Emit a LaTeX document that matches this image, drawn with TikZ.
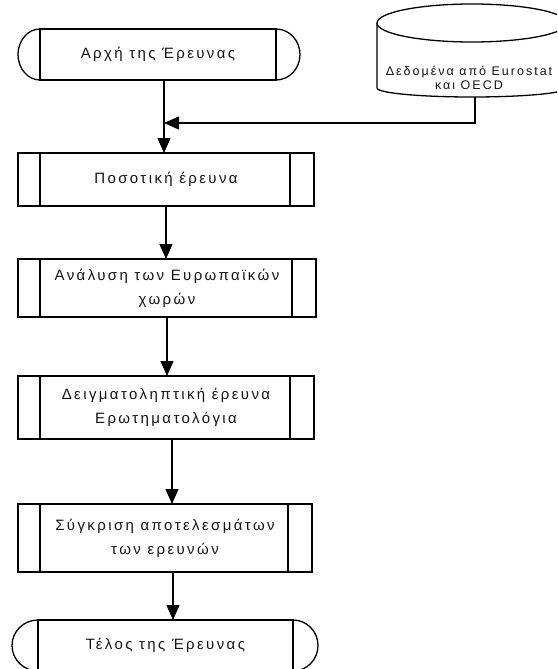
\documentclass[tikz,border=0pt]{standalone}
\usepackage{fontspec}
\setmainfont{Liberation Sans}
\usepackage{tikz}
\usetikzlibrary{arrows.meta, positioning}
\definecolor{inkgray}{HTML}{141414}

\begin{document}
\begin{tikzpicture}[x=1pt, y=-1pt, line width=1.3pt,
    every node/.style={font=\fontsize{15}{24}\selectfont\addfontfeature{LetterSpace=16}, text=inkgray, align=center, inner sep=0pt, outer sep=0pt},
    procbox/.style={draw, rectangle, minimum width=296pt, path picture={
        \draw[line width=1.3pt] ([xshift=22pt]path picture bounding box.north west) -- ([xshift=22pt]path picture bounding box.south west)
            ([xshift=-24pt]path picture bounding box.north east) -- ([xshift=-24pt]path picture bounding box.south east);}},
    termbox/.style={draw, rectangle},
    flow/.style={-{Triangle[length=15pt, width=13pt]}}]
                \clip (0,0) rectangle (557,669);
                % start and end
                \node[termbox, minimum width=236pt, minimum height=51pt] (start) at (158,54.5) {Αρχή της Έρευνας};
                \draw (start.north west) arc[start angle=90, end angle=270, x radius=22pt, y radius=25.5pt];
                \draw (start.north east) arc[start angle=90, end angle=-90, x radius=24pt, y radius=25.5pt];
                \node[termbox, minimum width=255pt, minimum height=51pt] (finish) at (165.5,645.5) {Τέλος της Έρευνας};
                \draw (finish.north west) arc[start angle=90, end angle=270, x radius=26pt, y radius=25.5pt];
                \draw (finish.north east) arc[start angle=90, end angle=-90, x radius=25pt, y radius=25.5pt];
                % data store
                \draw (377,23) -- (377,88) arc[start angle=180, end angle=360, x radius=95pt, y radius=9pt] -- (567,23);
                \draw (472,23) ellipse [x radius=95pt, y radius=19pt];
                \node[font=\fontsize{12.5}{14}\selectfont\addfontfeature{LetterSpace=16}] (data) at (469,78) {Δεδομένα από Eurostat\\και OECD};
                \coordinate (dbase) at (475,97);
                \coordinate (join) at (164,123);
                % steps
                \node[procbox, minimum height=53pt] (quant) at (166,179.5) {Ποσοτική έρευνα};
                \node[procbox, minimum width=298pt, minimum height=58pt] (euro) at (167,288) {Ανάλυση των Ευρωπαϊκών\\χωρών};
                \node[procbox, minimum height=63pt] (survey) at (166,407.5) {Δειγματοληπτική έρευνα\\Ερωτηματολόγια};
                \node[procbox, minimum width=294pt, minimum height=68pt] (compare) at (165,538) {Σύγκριση αποτελεσμάτων\\των ερευνών};
                % connectors
                \draw (start.south -| join) -- (join);
                \draw[flow] (dbase) |- (join);
                \draw[flow] (join) -- (join |- quant.north);
                \draw[flow] (quant.south) -- (quant.south |- euro.north);
                \draw[flow] (euro.south) -- (euro.south |- survey.north);
                \draw[flow] ([xshift=6pt]survey.south) -- ([xshift=6pt]survey.south |- compare.north);
                \draw[flow] ([xshift=8pt]compare.south) -- ([xshift=8pt]compare.south |- finish.north);
            \end{tikzpicture}
\end{document}
